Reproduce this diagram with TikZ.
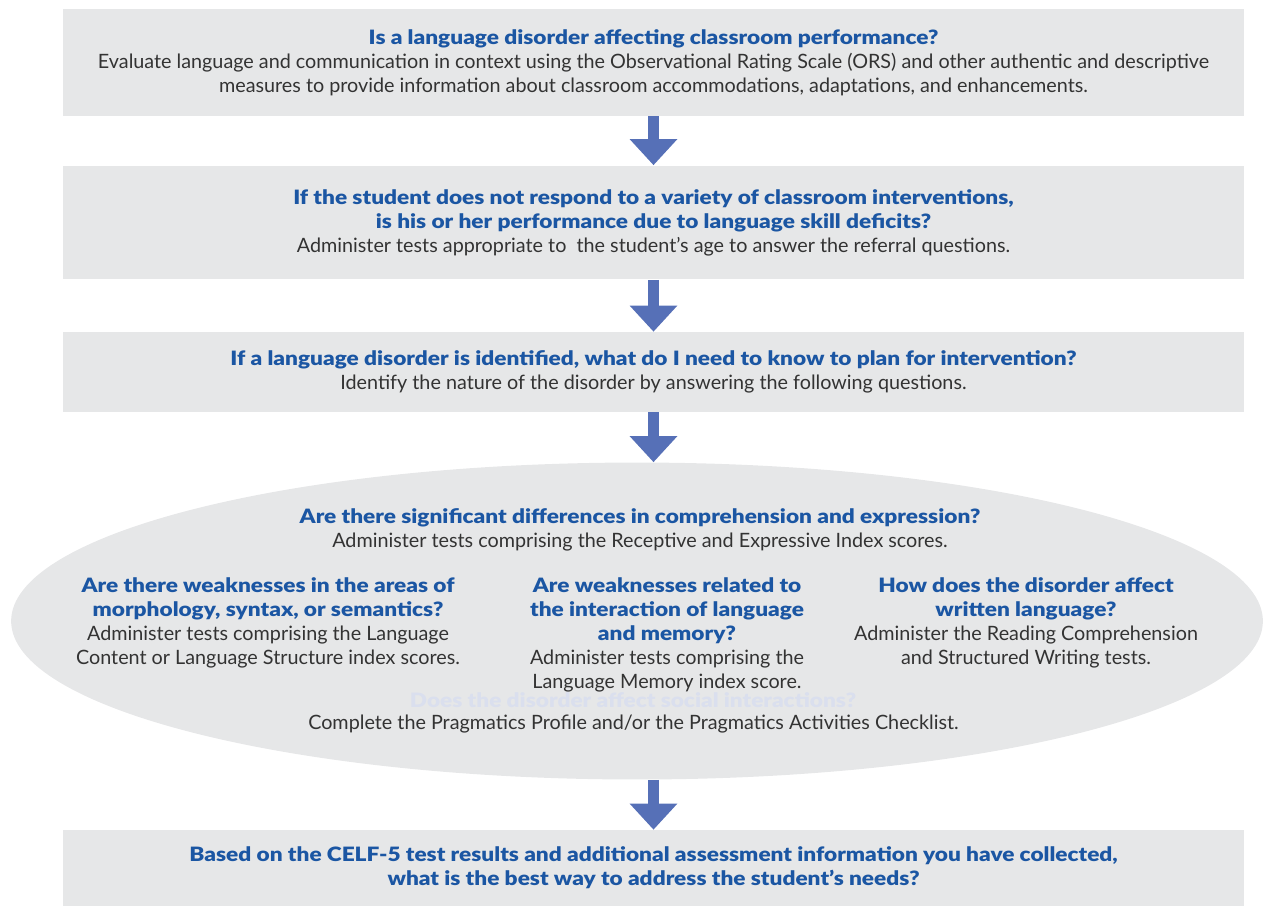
\documentclass[tikz,border=0pt]{standalone}
\usepackage{fontspec}
\setmainfont{Lato}[BoldFont=Lato Black,BoldFeatures={FakeStretch=1.145}]
\usetikzlibrary{shapes.geometric,arrows.meta}
\definecolor{boxgray}{RGB}{230,231,232}
\definecolor{headblue}{RGB}{27,86,163}
\definecolor{arrowblue}{RGB}{86,112,183}
\definecolor{bodygray}{RGB}{51,51,51}
\definecolor{fadeblue}{RGB}{218,223,238}
\newcommand{\hd}[1]{{\color{headblue}\bfseries #1}}

\begin{document}
\begin{tikzpicture}[x=0.02cm,y=-0.02cm,
  box/.style={fill=boxgray,minimum width=23.62cm,inner sep=0,align=center,text=bodygray,font=\fontsize{11.25}{13.7}\selectfont},
  txt/.style={inner sep=0,align=center,text=bodygray,font=\fontsize{11.25}{13.7}\selectfont},
  flow/.style={draw=arrowblue,line width=0.22cm,-{Triangle[width=0.92cm,length=0.52cm]}}]
\useasboundingbox (0,0) rectangle (1263,907);

\node[box,minimum height=2.14cm] (ask) at (653.5,62.5){\hd{Is a language disorder affecting classroom performance?}\\
Evaluate language and communication in context using the Observational Rating Scale (ORS) and other authentic and descriptive\\
measures to provide information about classroom accommodations, adaptations, and enhancements.};
\node[box,minimum height=2.28cm] (test) at (653.5,222.5){\hd{If the student does not respond to a variety of classroom interventions,}\\
\hd{is his or her performance due to language skill deficits?}\\
Administer tests appropriate to \ the student’s age to answer the referral questions.};
\node[box,minimum height=1.6cm] (plan) at (653.5,372){\hd{If a language disorder is identified, what do I need to know to plan for intervention?}\\
Identify the nature of the disorder by answering the following questions.};
\node[ellipse,fill=boxgray,minimum width=25.04cm,minimum height=6.34cm,inner sep=0] (nature) at (637,621){};
\node[box,minimum height=1.52cm] (address) at (653.5,868){\hd{Based on the CELF-5 test results and additional assessment information you have collected,}\\
\hd{what is the best way to address the student’s needs?}};

\node[txt] (diff) at (640,530){\hd{Are there significant differences in comprehension and expression?}\\
Administer tests comprising the Receptive and Expressive Index scores.};
\node[txt] (morph) at (268,623){\hd{Are there weaknesses in the areas of}\\
\hd{morphology, syntax, or semantics?}\\
Administer tests comprising the Language\\
Content or Language Structure index scores.};
\node[txt] (memory) at (667,635){\hd{Are weaknesses related to}\\
\hd{the interaction of language}\\
\hd{and memory?}\\
Administer tests comprising the\\
Language Memory index score.};
\node[txt] (written) at (1026,623){\hd{How does the disorder affect}\\
\hd{written language?}\\
Administer the Reading Comprehension\\
and Structured Writing tests.};
\node[txt,text=fadeblue,font=\fontsize{11.25}{13.7}\selectfont\bfseries] (social) at (633,700){Does the disorder affect social interactions?};
\node[txt] (prag) at (633.5,724){Complete the Pragmatics Profile and/or the Pragmatics Activities Checklist.};

\draw[flow] (ask) -- (test);
\draw[flow] (test) -- (plan);
\draw[flow] (plan) -- (plan.south |- nature.north);
\draw[flow] (nature.south -| address) -- (address);
\end{tikzpicture}
\end{document}
